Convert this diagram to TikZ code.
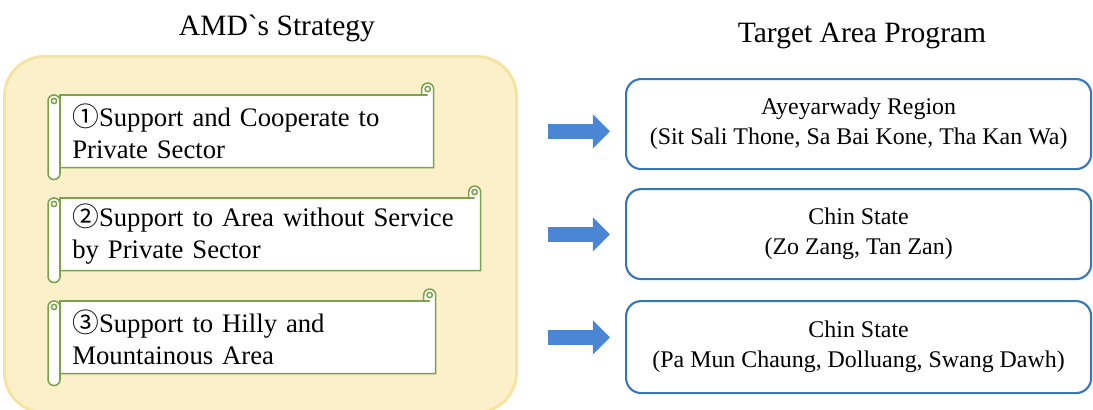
\documentclass[tikz,border=0pt]{standalone}
\usepackage{fontspec}
\setmainfont{Liberation Serif}
\newfontfamily\circfont{Noto Sans CJK JP}
\usetikzlibrary{
  positioning,
  arrows.meta,
  calc,
  backgrounds
}
\definecolor{panelfill}{HTML}{FCF0CA}
\definecolor{paneledge}{HTML}{F6E3A0}
\definecolor{scrollgreen}{HTML}{7AA34C}
\definecolor{areablue}{HTML}{3576BC}
\definecolor{arrowblue}{HTML}{4A86D4}

\newlength\rollsize
\setlength\rollsize{8.5pt}

% scroll outline drawn round a strategy node
\newcommand{\scrollframe}[1]{%
  \draw[scrolline, fill=white]
    let \p1=(#1.north west), \p2=(#1.south east) in
    (\x1,\y1) -- (\x2-\rollsize,\y1) -- (\x2-\rollsize,\y1+0.5*\rollsize)
    arc[start angle=180, end angle=0, radius=0.5*\rollsize]
    -- (\x2,\y2) -- (\x1,\y2) -- cycle;
  \draw[scrolline]
    let \p1=(#1.north east) in
    (\x1-0.5*\rollsize,\y1+0.5*\rollsize) circle[radius=0.22*\rollsize]
    (\x1-\rollsize,\y1) -- (\x1-0.5*\rollsize,\y1);
  \draw[scrolline, fill=white, rounded corners=0.49*\rollsize]
    let \p1=(#1.north west), \p2=(#1.south east) in
    (\x1-\rollsize,\y1) rectangle (\x1,\y2-\rollsize);
  \draw[scrolline]
    let \p1=(#1.north west) in
    (\x1-0.5*\rollsize,\y1-0.5*\rollsize) circle[radius=0.22*\rollsize];
}

\begin{document}
\begin{tikzpicture}[
  x=0.025cm, y=-0.025cm,
  titletext/.style={font=\fontsize{21}{25}\selectfont, anchor=base},
  scrollbox/.style={anchor=north west, inner xsep=0.3cm, inner ysep=0pt,
                    align=left, minimum height=1.8cm,
                    font=\fontsize{19}{23}\selectfont},
  areabox/.style={draw=areablue, line width=1.5pt, rounded corners=0.38cm,
                  anchor=north west, minimum width=11.625cm, align=center,
                  font=\fontsize{17}{21.3}\selectfont},
  panelbox/.style={draw=paneledge, fill=panelfill, line width=2pt,
                   rounded corners=1cm, anchor=north west},
  scrolline/.style={draw=scrollgreen, line width=1.1pt},
  bigarrow/.style={arrowblue, line width=0.375cm,
                   -{Triangle[width=0.825cm, length=0.425cm]},
                   shorten <=0.75cm, shorten >=0.375cm}
]
  \useasboundingbox (0,0) rectangle (1093,409);

  % titles
  \node[titletext] (ltitle) at (277,35) {AMD\textasciigrave s Strategy};
  \node[titletext] (rtitle) at (862,42) {Target Area Program};

  % strategies
  \node[scrollbox, minimum width=9.325cm, text width=8.725cm] (s1) at (60,95)
    {{\circfont ①}Support and Cooperate to\\Private Sector};
  \node[scrollbox, minimum width=10.5cm, text width=9.9cm] (s2) at (60,198)
    {{\circfont ②}Support to Area without Service\\by Private Sector};
  \node[scrollbox, minimum width=9.375cm, text width=8.775cm] (s3) at (60,301)
    {{\circfont ③}Support to Hilly and\\Mountainous Area};

  % target areas
  \node[areabox, minimum height=2.25cm] (t1) at (625,78)
    {Ayeyarwady Region\\(Sit Sali Thone, Sa Bai Kone, Tha Kan Wa)};
  \node[areabox, minimum height=2.25cm] (t2) at (625,188)
    {Chin State\\(Zo Zang, Tan Zan)};
  \node[areabox, minimum height=2.3cm] (t3) at (625,300)
    {Chin State\\(Pa Mun Chaung, Dolluang, Swang Dawh)};

  \begin{scope}[on background layer]
    \node[panelbox, minimum width=12.8cm, minimum height=8.9cm] (panel) at (3,55) {};
    \scrollframe{s1}
    \scrollframe{s2}
    \scrollframe{s3}
  \end{scope}

  \draw[bigarrow] (panel.east |- s1.center) -- (t1.west |- s1.center);
  \draw[bigarrow] (panel.east |- s2.center) -- (t2.west |- s2.center);
  \draw[bigarrow] (panel.east |- s3.center) -- (t3.west |- s3.center);
\end{tikzpicture}
\end{document}
